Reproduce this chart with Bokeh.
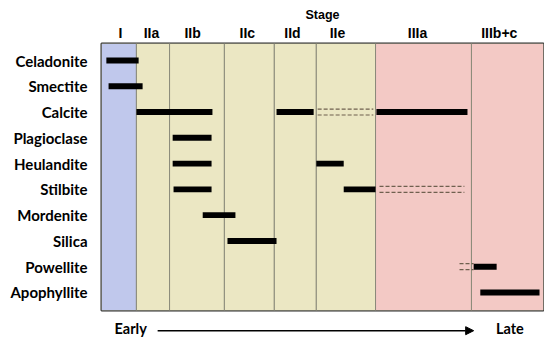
from bokeh.plotting import figure
from bokeh.layouts import column
from bokeh.models import Range1d, FixedTicker, LinearAxis, Label, Arrow, NormalHead, ColumnDataSource
from bokeh.embed import file_html
from bokeh.resources import INLINE

# ---- data ----
minerals = ["Celadonite", "Smectite", "Calcite", "Plagioclase", "Heulandite",
            "Stilbite", "Mordenite", "Silica", "Powellite", "Apophyllite"]

stages = ["I", "IIa", "IIb", "IIc", "IId", "IIe", "IIIa", "IIIb+c"]
stage_start = [0.0, 7.9, 15.4, 27.8, 39.1, 48.6, 62.0, 83.7]
stage_end = [7.9, 15.4, 27.8, 39.1, 48.6, 62.0, 83.7, 100.0]
stage_label_x = [4.3, 11.3, 20.6, 33.0, 43.2, 53.4, 71.5, 90.0]
stage_colors = ["#c0c8ec", "#ebe7c3", "#ebe7c3", "#ebe7c3", "#ebe7c3", "#ebe7c3",
                "#f3c9c5", "#f3c9c5"]

solid_mineral = ["Celadonite", "Smectite", "Calcite", "Calcite", "Calcite",
                 "Plagioclase", "Heulandite", "Heulandite", "Stilbite", "Stilbite",
                 "Mordenite", "Silica", "Powellite", "Apophyllite"]
solid_start = [1.1, 1.6, 7.9, 39.6, 62.2, 16.1, 16.1, 48.6, 16.3, 54.8, 22.9, 28.5, 84.2, 85.7]
solid_end = [8.4, 9.3, 25.1, 48.0, 82.8, 24.9, 24.9, 54.8, 24.9, 62.0, 30.3, 39.6, 89.4, 99.1]

dashed_mineral = ["Calcite", "Stilbite", "Powellite"]
dashed_start = [48.9, 62.9, 81.0]
dashed_end = [61.5, 82.1, 84.2]

time_labels = ["Early", "Late"]
time_label_x = [6.6, 92.4]
arrow_x = [12.7, 84.2]

# ---- main figure ----
p = figure(width=544, height=312, output_backend="svg", toolbar_location=None,
           x_range=Range1d(0, 100), y_range=Range1d(9.70, -0.66),
           x_axis_location=None, y_axis_location="left",
           min_border_left=101, min_border_right=1, min_border_top=43, min_border_bottom=2)
p.grid.visible = False
p.outline_line_color = "#2b2b2b"
p.outline_line_width = 2
p.background_fill_color = "white"
p.border_fill_color = "white"

# stage backgrounds
p.quad(left=stage_start, right=stage_end, top=-0.66, bottom=9.70,
       fill_color=stage_colors, line_color="#8a8a7a", line_width=1)

# solid bars
src = ColumnDataSource(dict(y=[minerals.index(m) for m in solid_mineral],
                            left=solid_start, right=solid_end))
p.hbar(y="y", left="left", right="right", height=0.23, source=src,
       fill_color="black", line_color=None)

# uncertain (dashed double lines)
dy = [minerals.index(m) for m in dashed_mineral]
off = 0.115
p.segment(x0=dashed_start, x1=dashed_end, y0=[v - off for v in dy], y1=[v - off for v in dy],
          line_color="#6f604f", line_width=1.2, line_dash="4 2")
p.segment(x0=dashed_start, x1=dashed_end, y0=[v + off for v in dy], y1=[v + off for v in dy],
          line_color="#6f604f", line_width=1.2, line_dash="4 2")

# left axis: mineral names
ya = p.yaxis[0]
ya.ticker = FixedTicker(ticks=list(range(len(minerals))))
ya.major_label_overrides = {i: m for i, m in enumerate(minerals)}
ya.axis_line_color = None
ya.major_tick_line_color = None
ya.minor_tick_line_color = None
ya.major_tick_out = 0
ya.major_tick_in = 0
ya.minor_tick_out = 0
ya.major_label_standoff = 14
ya.major_label_text_font = "Lato"
ya.major_label_text_font_style = "bold"
ya.major_label_text_font_size = "15px"
ya.major_label_text_color = "black"

# top axis: stages
xa = LinearAxis(ticker=FixedTicker(ticks=stage_label_x),
                major_label_overrides={x: s for x, s in zip(stage_label_x, stages)},
                axis_label="Stage")
xa.axis_line_color = None
xa.major_tick_line_color = None
xa.minor_tick_line_color = None
xa.major_tick_out = 0
xa.major_tick_in = 0
xa.minor_tick_out = 0
xa.major_label_standoff = 3
xa.major_label_text_font = "Liberation Sans"
xa.major_label_text_font_style = "bold"
xa.major_label_text_font_size = "14px"
xa.major_label_text_color = "black"
xa.axis_label_text_font = "Liberation Sans"
xa.axis_label_text_font_style = "bold"
xa.axis_label_text_font_size = "12.5px"
xa.axis_label_text_color = "black"
xa.axis_label_standoff = 0
p.add_layout(xa, "above")

# ---- Early -> Late strip ----
p2 = figure(width=544, height=26, output_backend="svg", toolbar_location=None,
            x_range=p.x_range, y_range=Range1d(0, 1),
            x_axis_location=None, y_axis_location=None,
            min_border_left=101, min_border_right=1, min_border_top=0, min_border_bottom=0)
p2.grid.visible = False
p2.outline_line_color = None
p2.background_fill_color = "white"
p2.border_fill_color = "white"
for t, x in zip(time_labels, time_label_x):
    p2.add_layout(Label(x=x, y=0.38, text=t, text_align="center", text_baseline="middle",
                        text_font="Lato", text_font_style="bold", text_font_size="14.5px",
                        text_color="black"))
p2.add_layout(Arrow(x_start=arrow_x[0], y_start=0.3, x_end=arrow_x[1], y_end=0.3, line_width=1.5,
                    line_color="black",
                    end=NormalHead(size=8, fill_color="black", line_color="black")))

layout = column(p, p2, spacing=0)
open("out.html", "w").write(file_html(layout, INLINE))
